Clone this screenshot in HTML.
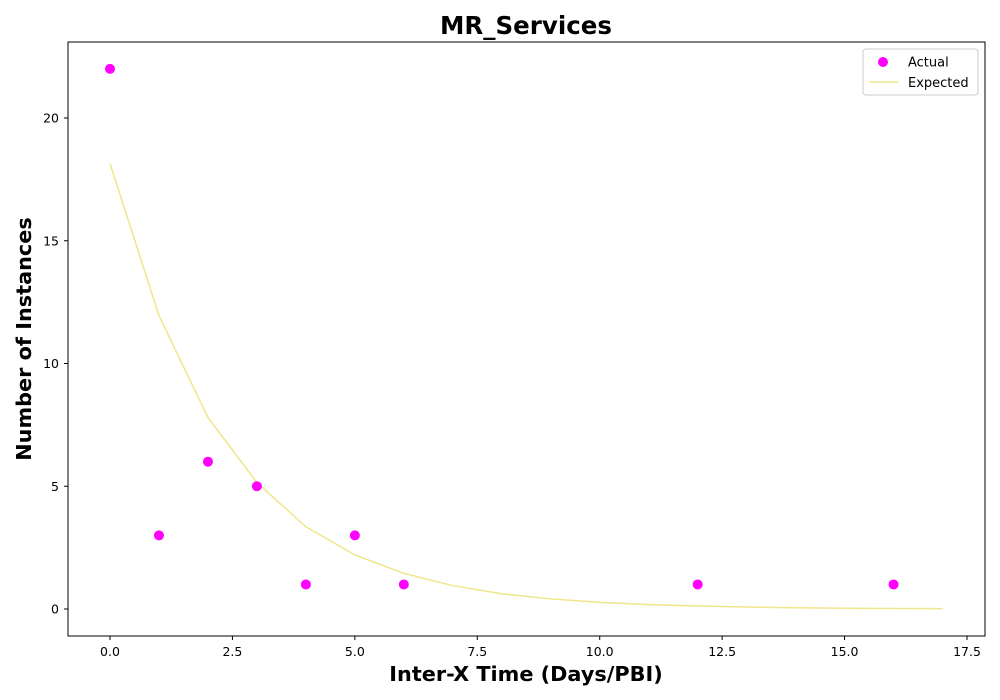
<!DOCTYPE html>
<html><head><meta charset="utf-8">
<style>
html,body{margin:0;padding:0;background:#fff;}
svg{display:block;font-family:"DejaVu Sans","Liberation Sans",sans-serif;}
</style></head>
<body>
<svg id="chart" width="1000" height="700" viewBox="0 0 1000 700">
<rect x="0" y="0" width="1000" height="700" fill="#fff"/>
<text x="526" y="34" text-anchor="middle" font-size="24.5" font-weight="bold">MR_Services</text>
<g id="ticks"></g>
<g id="marks"></g>
<rect x="68" y="42" width="917" height="594" fill="none" stroke="#000" stroke-width="1"/>
<text x="526" y="681" text-anchor="middle" font-size="20.8" font-weight="bold">Inter-X Time (Days/PBI)</text>
<text transform="translate(31,339) rotate(-90)" text-anchor="middle" font-size="20.8" font-weight="bold">Number of Instances</text>
<g>
<rect x="863" y="49" width="115" height="46" rx="3" fill="#fff" stroke="#ccc"/>
<circle cx="883" cy="62" r="5" fill="#ff00ff"/>
<text x="908" y="66.5" font-size="13">Actual</text>
<line x1="869" y1="82" x2="898" y2="82" stroke="#f0e68c" stroke-width="1.5"/>
<text x="908" y="87" font-size="13">Expected</text>
</g>
</svg>
<script>
const actualX = [0,1,2,3,4,5,6,12,16];
const actualY = [22,3,6,5,1,3,1,1,1];
const expectedX = [0,1,2,3,4,5,6,7,8,9,10,11,12,13,14,15,16,17];
const expectedY = [18.15,11.95,7.8,5.15,3.35,2.2,1.45,0.95,0.62,0.41,0.27,0.18,0.12,0.08,0.05,0.03,0.02,0.015];
const xTicks = [0,2.5,5,7.5,10,12.5,15,17.5];
const xTickLabels = ["0.0","2.5","5.0","7.5","10.0","12.5","15.0","17.5"];
const yTicks = [0,5,10,15,20];
const yTickLabels = ["0","5","10","15","20"];

const NS = "http://www.w3.org/2000/svg";
function sx(v){ return 110 + v*(967-110)/17.5; }
function sy(v){ return 609 - v*(609-118)/20; }
function mk(tag, attrs, parent){
  const e = document.createElementNS(NS, tag);
  for (const k in attrs) e.setAttribute(k, attrs[k]);
  parent.appendChild(e); return e;
}
const tg = document.getElementById('ticks');
xTicks.forEach((t,i)=>{
  const l = mk('line',{x1:sx(t),x2:sx(t),y1:636,y2:640,stroke:'#000'},tg);
  
  
  const tx = mk('text',{x:sx(t),y:656,'text-anchor':'middle','font-size':12.5},tg);
  tx.textContent = xTickLabels[i];
  
  
});
yTicks.forEach((t,i)=>{
  const l = mk('line',{x1:64,x2:68,y1:sy(t),y2:sy(t),stroke:'#000'},tg);
  
  
  const tx = mk('text',{x:59,y:sy(t)+4.5,'text-anchor':'end','font-size':12.5},tg);
  tx.textContent = yTickLabels[i];
  
  
});
const mg = document.getElementById('marks');
const pts = expectedX.map((x,i)=>sx(x)+','+sy(expectedY[i])).join(' ');
const pl = mk('polyline',{points:pts,fill:'none',stroke:'#f0e68c','stroke-width':1.5},mg);


actualX.forEach((x,i)=>{
  const c = mk('circle',{cx:sx(x),cy:sy(actualY[i]),r:5,fill:'#ff00ff'},mg);
  
  
});
</script>
</body></html>
